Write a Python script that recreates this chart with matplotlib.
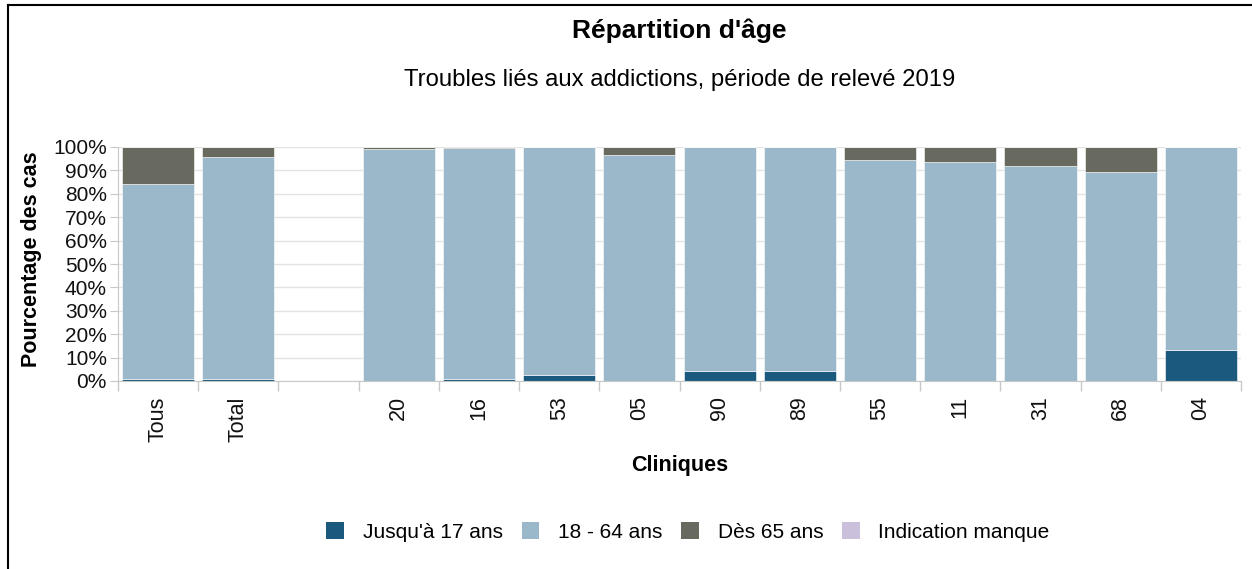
import matplotlib.pyplot as plt
import numpy as np
from matplotlib.lines import Line2D
from matplotlib.patches import Patch
from matplotlib.ticker import FixedLocator, PercentFormatter

plt.rcParams["font.family"] = ["Liberation Sans", "DejaVu Sans"]

cliniques = ["Tous", "Total", "", "20", "16", "53", "05", "90", "89", "55", "11", "31", "68", "04"]
jusqu_17 = [0.8, 0.8, 0.0, 0.0, 0.8, 2.5, 0.0, 4.2, 4.4, 0.0, 0.0, 0.0, 0.0, 13.2]
ans_18_64 = [83.4, 94.9, 0.0, 99.0, 98.7, 97.5, 96.5, 95.8, 95.6, 94.4, 93.7, 91.7, 89.3, 86.8]
des_65 = [15.8, 4.3, 0.0, 1.0, 0.5, 0.0, 3.5, 0.0, 0.0, 5.6, 6.3, 8.3, 10.7, 0.0]
indication_manque = [0.0] * 14

series = [
    ("Jusqu'à 17 ans", jusqu_17, "#1b5a7e"),
    ("18 - 64 ans", ans_18_64, "#9ab8c9"),
    ("Dès 65 ans", des_65, "#686a60"),
    ("Indication manque", indication_manque, "#cbc0dc"),
]

W, H = 1252, 569
fig = plt.figure(figsize=(W / 100, H / 100), dpi=100)
ax = fig.add_axes([118 / W, 1 - 381 / H, (1241 - 118) / W, (381 - 147) / H])

x = np.arange(len(cliniques))
bottom = np.zeros(len(cliniques))
for label, values, color in series:
    values = np.asarray(values, dtype=float)
    ax.bar(x, values, bottom=bottom, width=0.9, color=color, edgecolor="white",
           linewidth=0.4, zorder=2)
    bottom += values

ax.set_xlim(-0.5, len(cliniques) - 0.5)
ax.set_ylim(0, 100)
ax.yaxis.set_major_locator(FixedLocator(np.arange(0, 101, 10)))
ax.yaxis.set_major_formatter(PercentFormatter(decimals=0))
ax.grid(axis="y", color="#e3e3e3", linewidth=1, zorder=0)

ax.set_xticks(x)
ax.set_xticklabels(cliniques, rotation=90, fontsize=15.5, color="#111111")
ax.tick_params(axis="x", which="major", length=0, pad=11)
ax.set_xticks(np.arange(-0.5, len(cliniques), 1), minor=True)
ax.tick_params(axis="x", which="minor", length=7, color="#c8c8c8", width=1)
ax.tick_params(axis="y", length=6, color="#c8c8c8", labelsize=15, labelcolor="#111111", pad=2)

for side in ["top", "right"]:
    ax.spines[side].set_visible(False)
ax.spines["left"].set_color("#c8c8c8")
ax.spines["bottom"].set_color("#c8c8c8")

ax.set_ylabel("Pourcentage des cas", fontsize=15.5, fontweight="bold")
ax.yaxis.label.set_va("center")
ax.yaxis.set_label_coords((32 - 118) / (1241 - 118), (381 - 259) / (381 - 147))
ax.set_xlabel("Cliniques", fontsize=15.5, fontweight="bold")
ax.xaxis.label.set_va("center")
ax.xaxis.set_label_coords((680 - 118) / (1241 - 118), (381 - 465) / (381 - 147))

cx = (118 + 1241) / 2 / W
fig.text(cx, 1 - 31 / H, "Répartition d'âge", ha="center", va="center",
         fontsize=19, fontweight="bold")
fig.text(cx, 1 - 80 / H, "Troubles liés aux addictions, période de relevé 2019",
         ha="center", va="center", fontsize=17.2)

handles = [Patch(facecolor=c, edgecolor="none") for _, _, c in series]
fig.legend(handles, [s[0] for s in series], loc="center", ncol=4,
           bbox_to_anchor=(688 / W, 1 - 532 / H), frameon=False, fontsize=15,
           handlelength=0.85, handleheight=0.85, columnspacing=0.9, handletextpad=0.9)

fig.add_artist(Line2D([8 / W, 8 / W], [0, 1 - 5 / H], color="black", linewidth=1.5))
fig.add_artist(Line2D([8 / W, 1], [1 - 5 / H, 1 - 5 / H], color="black", linewidth=1.5))

fig.savefig("out.png", dpi=100)
